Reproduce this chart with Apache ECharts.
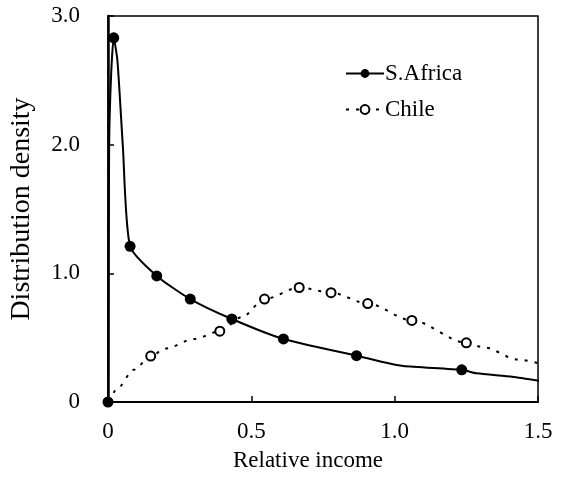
<!DOCTYPE html>
<html>
<head>
<meta charset="utf-8">
<script src="https://cdn.jsdelivr.net/npm/echarts@6/dist/echarts.min.js"></script>
<style>html,body{margin:0;padding:0;background:#fff;}#c{width:565px;height:498px;}</style>
</head>
<body>
<div id="c"></div>
<script>
// S.Africa curve points and the x values that carry a marker
const saX = [0, 0.004, 0.011, 0.02, 0.033, 0.052, 0.077, 0.17, 0.287, 0.432, 0.612, 0.867, 0.95, 1.03, 1.234, 1.286, 1.41, 1.52];
const saY = [0, 2.0, 2.55, 2.83, 2.65, 1.98, 1.21, 0.98, 0.80, 0.645, 0.49, 0.36, 0.315, 0.28, 0.25, 0.223, 0.197, 0.16];
const saMarkedX = [0, 0.02, 0.077, 0.17, 0.287, 0.432, 0.612, 0.867, 1.234];
// Chile curve points and the x values that carry a marker
const clX = [0.005, 0.03, 0.09, 0.149, 0.2, 0.3, 0.39, 0.467, 0.546, 0.667, 0.778, 0.906, 1.06, 1.25, 1.31, 1.43, 1.52];
const clY = [0, 0.1, 0.25, 0.357, 0.415, 0.49, 0.55, 0.66, 0.80, 0.89, 0.85, 0.765, 0.634, 0.46, 0.425, 0.33, 0.29];
const clMarkedX = [0.149, 0.39, 0.546, 0.667, 0.778, 0.906, 1.06, 1.25];
const xTicks = [0, 0.5, 1.0, 1.5];
const yTicks = [0, 1.0, 2.0, 3.0];
const xTitle = 'Relative income';
const yTitle = 'Distribution density';
const seriesNames = ['S.Africa', 'Chile'];

function build(xs, ys, marked) {
  return xs.map((x, i) => ({
    value: [x, ys[i]],
    symbol: marked.indexOf(x) >= 0 ? 'circle' : 'none'
  }));
}
const fmt = v => (v === 0 ? '0' : v.toFixed(1));
const font = 'Liberation Serif';
const chart = echarts.init(document.getElementById('c'), null, {renderer: 'canvas'});
chart.setOption({
  animation: false,
  backgroundColor: '#fff',
  grid: {left: 105, right: 27, top: 16, bottom: 96, show: true, borderColor: '#000', borderWidth: 1.5, backgroundColor: 'transparent'},
  legend: {
    orient: 'vertical', left: 340, top: 57, itemWidth: 38, itemHeight: 11, itemGap: 13,
    textStyle: {fontFamily: font, fontSize: 23, color: '#000', padding: [0, 0, 0, -4]},
    data: seriesNames
  },
  xAxis: {
    type: 'value', min: 0, max: 1.5, interval: 0.5,
    name: xTitle, nameLocation: 'middle', nameGap: 47,
    nameTextStyle: {fontFamily: font, fontSize: 23, color: '#000', padding: [0, 30, 0, 0]},
    axisLine: {show: true, onZero: false, lineStyle: {color: '#000', width: 2}},
    axisTick: {show: true, inside: true, length: 6, lineStyle: {color: '#000', width: 1.5}},
    axisLabel: {fontFamily: font, fontSize: 23, color: '#000', margin: 18, formatter: fmt},
    splitLine: {show: false}
  },
  yAxis: {
    type: 'value', min: 0, max: 3, interval: 1,
    name: yTitle, nameLocation: 'middle', nameGap: 72, nameRotate: 90,
    nameTextStyle: {fontFamily: font, fontSize: 28, color: '#000'},
    axisLine: {show: true, onZero: false, lineStyle: {color: '#000', width: 2.5}},
    axisTick: {show: true, inside: true, length: 6, lineStyle: {color: '#000', width: 1.5}},
    axisLabel: {fontFamily: font, fontSize: 23, color: '#000', margin: 28, formatter: fmt},
    splitLine: {show: false}
  },
  series: [
    {
      name: seriesNames[0], type: 'line', smooth: 0.2,
      symbol: 'circle', symbolSize: 11, showAllSymbol: true,
      lineStyle: {color: '#000', width: 2, type: 'solid'},
      itemStyle: {color: '#000', borderColor: '#000', borderWidth: 0},
      data: build(saX, saY, saMarkedX), z: 3
    },
    {
      name: seriesNames[1], type: 'line', smooth: 0.3, smoothMonotone: 'x',
      symbol: 'circle', symbolSize: 9, showAllSymbol: true,
      lineStyle: {color: '#000', width: 2, type: [3, 7]},
      itemStyle: {color: '#fff', borderColor: '#000', borderWidth: 2},
      data: build(clX, clY, clMarkedX), z: 2
    }
  ]
});
</script>
</body>
</html>
